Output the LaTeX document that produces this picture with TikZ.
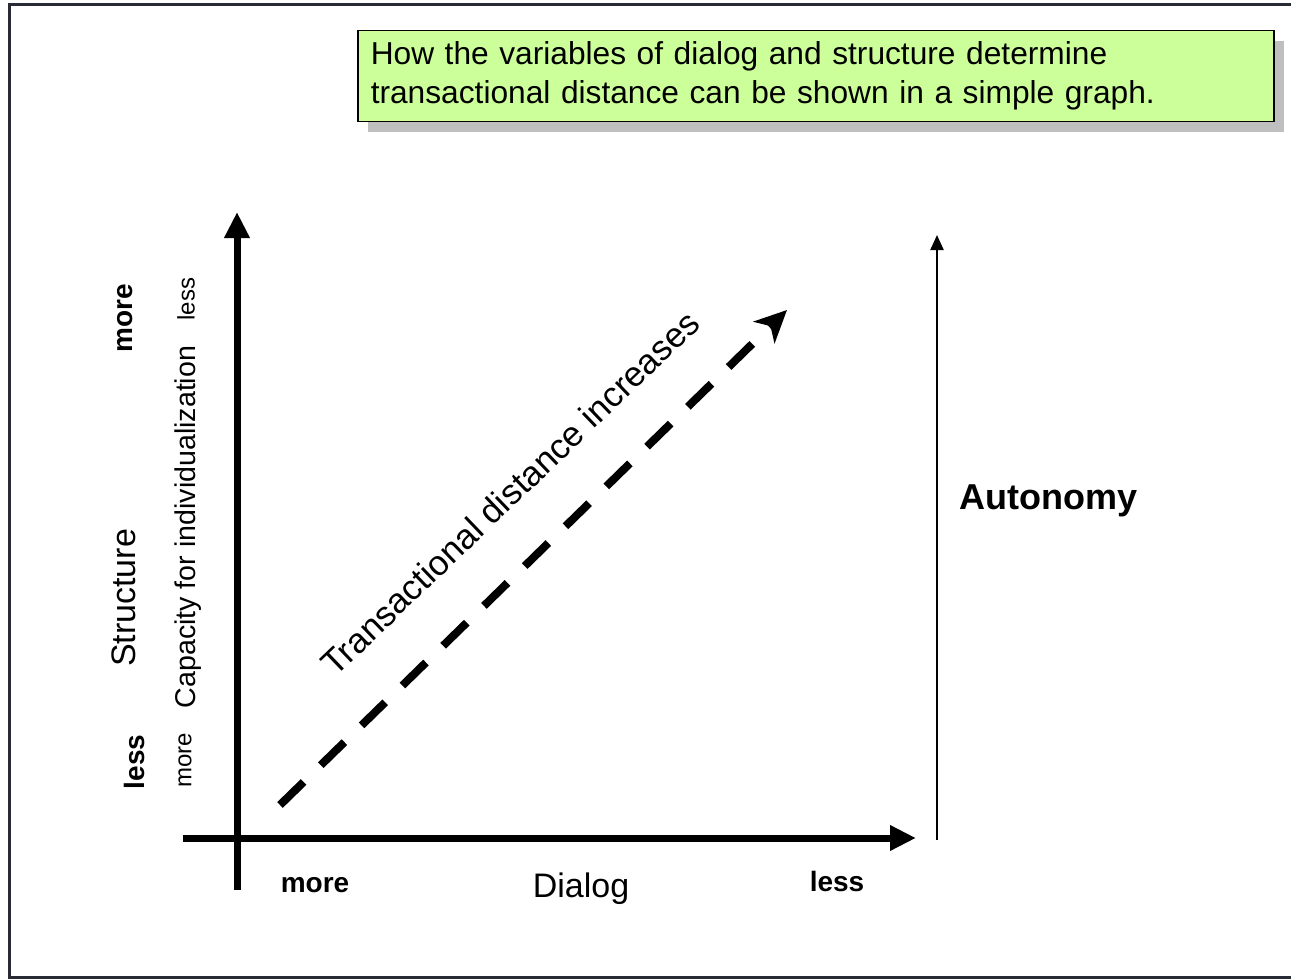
\documentclass[tikz,border=0pt]{standalone}
\usepackage{fontspec}
\setmainfont{Liberation Sans}
\usetikzlibrary{arrows.meta,shadows}
\definecolor{boxgreen}{RGB}{204,255,153}
\definecolor{framegray}{RGB}{40,42,52}
\begin{document}
\begin{tikzpicture}[x=1pt,y=-1pt,
  lbl/.style={inner sep=0pt, font=\fontsize{34}{40}\selectfont},
  blbl/.style={inner sep=0pt, font=\fontsize{28}{34}\selectfont\bfseries},
  slbl/.style={inner sep=0pt, font=\fontsize{24}{28}\selectfont},
  axis/.style={line width=7pt, -{Triangle[length=26pt,width=24pt]}}]
\useasboundingbox (0,0) rectangle (1291,979);
\draw[line width=3pt, framegray] (1291,5) -- (9,5) -- (9,977) -- (1291,977);

% title box
\node[draw, line width=1.5pt, fill=boxgreen, anchor=north west,
  minimum width=916pt, minimum height=91pt, inner xsep=13pt,
  text width=890pt, align=left, font=\fontsize{31.7}{39}\selectfont,
  drop shadow={shadow xshift=10pt, shadow yshift=-10pt, fill=black!25, opacity=1}]
  (title) at (357,30) {How the variables of dialog and structure determine\\
  transactional distance can be shown in a simple graph.};

% axes
\coordinate (yb) at (237,890);
\coordinate (yt) at (237,212);
\coordinate (xl) at (183,838);
\coordinate (xr) at (916,838);
\draw[axis] (yb) -- (yt);
\draw[axis] (xl) -- (xr);

% transactional distance
\coordinate (ds) at (280,805);
\coordinate (de) at (787,310);
\draw[line width=8pt, dash pattern=on 33pt off 24pt,
  -{Stealth[length=32pt,width=30pt,inset=9pt]}] (ds) -- (de);
\node[lbl, rotate=43.8, font=\fontsize{35}{40}\selectfont] (tdist) at (510,493) {Transactional distance increases};

% autonomy
\coordinate (ab) at (937,840);
\coordinate (at) at (937,235);
\draw[line width=2.2pt, -{Triangle[length=15pt,width=13pt]}] (ab) -- (at);
\node[inner sep=0pt, anchor=base west, font=\fontsize{36}{42}\selectfont\bfseries]
  (auto) at (959,509) {Autonomy};

% structure labels
\node[blbl, rotate=90] (smore) at (125,318) {more};
\node[lbl, rotate=90] (struct) at (124,598) {Structure};
\node[blbl, rotate=90] (sless) at (134,762) {less};
\node[slbl, rotate=90] (cless) at (186,299) {less};
\node[slbl, rotate=90, font=\fontsize{28.6}{32}\selectfont] (cap) at (188,527) {Capacity for individualization};
\node[slbl, rotate=90] (cmore) at (185,760) {more};

% dialog labels
\node[blbl, anchor=base] (dmore) at (315,892) {more};
\node[lbl, anchor=base] (dialog) at (581,897) {Dialog};
\node[blbl, anchor=base] (dless) at (837,891) {less};
\end{tikzpicture}
\end{document}
